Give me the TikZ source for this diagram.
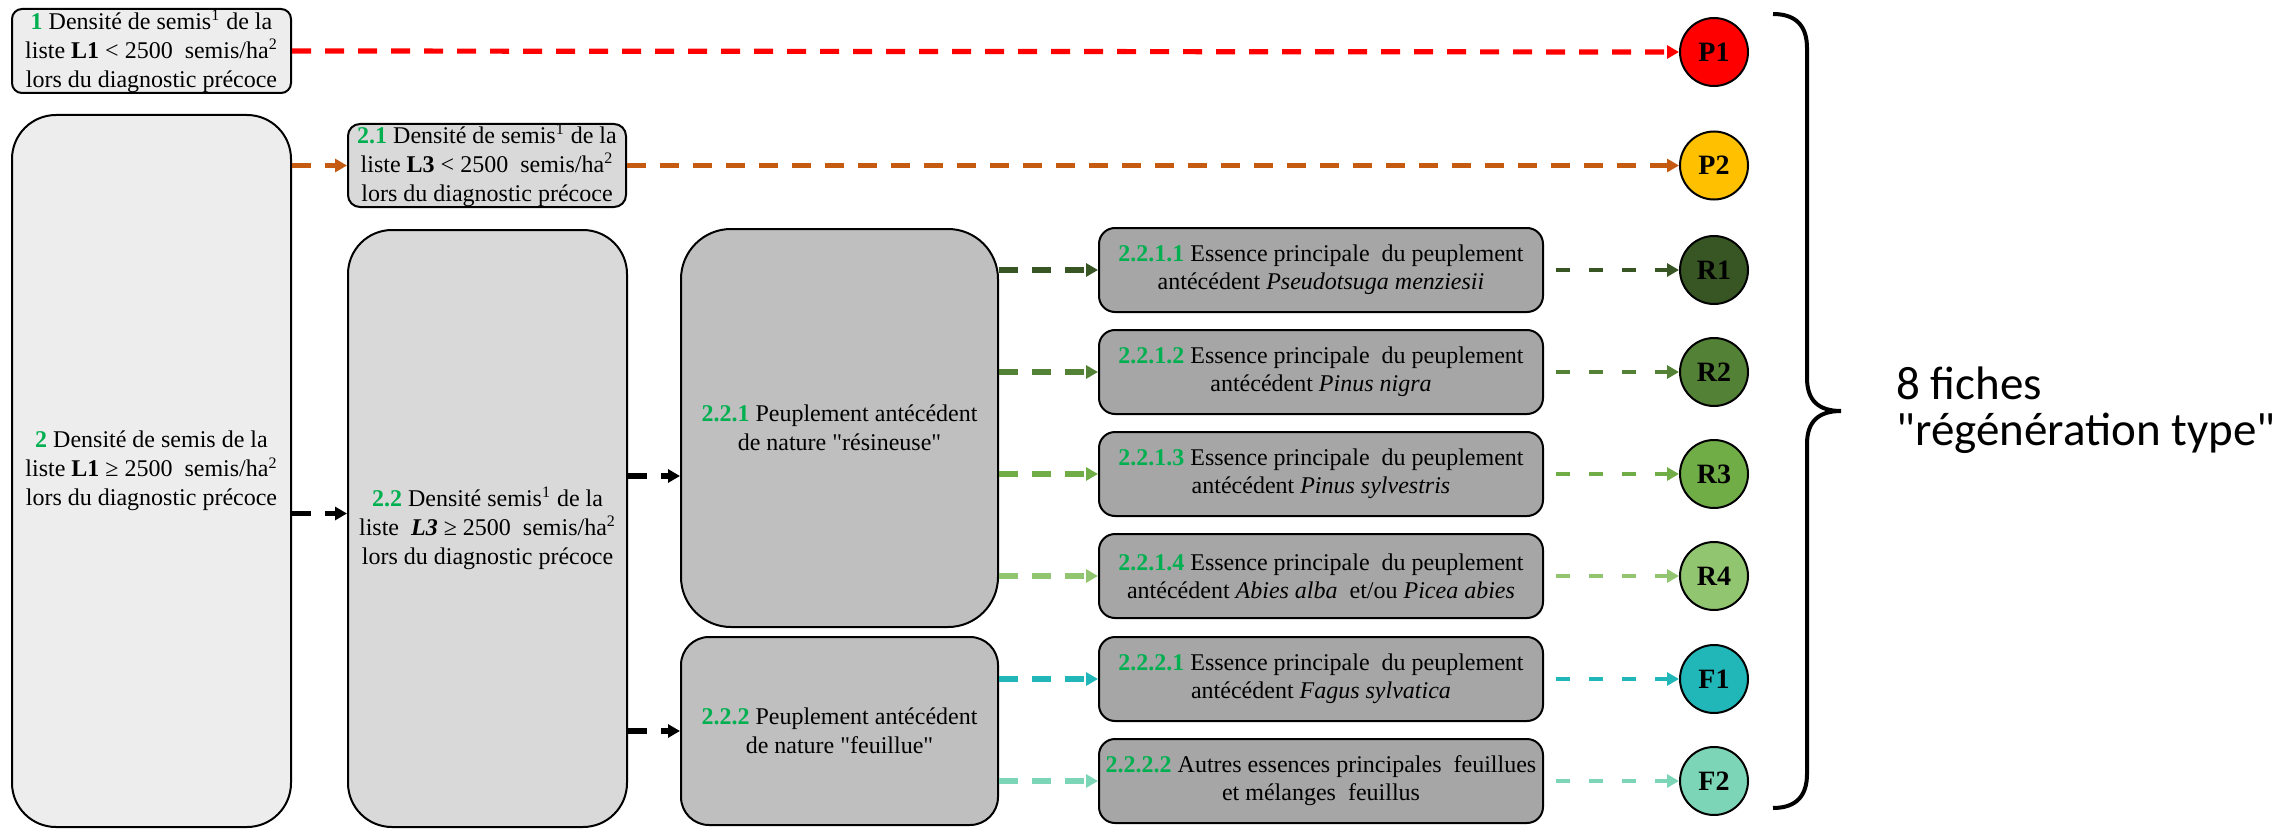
\documentclass[tikz,border=0pt]{standalone}
\usepackage{fontspec}
\newfontfamily\timesfamily{Liberation Serif}
\newfontfamily\calibri{Carlito}
\usetikzlibrary{arrows.meta}

\definecolor{vertnum}{HTML}{00B050}
\definecolor{gris1}{HTML}{EDEDED}
\definecolor{gris2}{HTML}{D9D9D9}
\definecolor{gris3}{HTML}{BFBFBF}
\definecolor{gris4}{HTML}{A6A6A6}
\definecolor{cP1}{HTML}{FF0000}
\definecolor{cP2}{HTML}{FFC000}
\definecolor{cO}{HTML}{C55A11}
\definecolor{cR1}{HTML}{375623}
\definecolor{cR2}{HTML}{538135}
\definecolor{cR3}{HTML}{70AD47}
\definecolor{cR4}{HTML}{92C56F}
\definecolor{cF1}{HTML}{21B6B8}
\definecolor{cF2}{HTML}{7DD5B8}

\newcommand{\numero}[1]{\textcolor{vertnum}{\textbf{#1}}}

\begin{document}
\begin{tikzpicture}[x=1pt,y=-1pt,
    boite/.style={draw, line width=1pt, align=center, inner sep=0pt,
        font=\timesfamily\fontsize{12}{14.5}\selectfont},
    fiche/.style={circle, draw, line width=1pt, minimum size=34pt, inner sep=0pt,
        font=\timesfamily\fontsize{14}{14}\selectfont\bfseries},
    fleche/.style={line width=2.6pt, dash pattern=on 9.5pt off 7pt,
        -{Triangle[length=6pt,width=6.5pt]}},
    flechefiche/.style={line width=1.9pt, dash pattern=on 7pt off 9.5pt,
        -{Triangle[length=6pt,width=6.5pt]}, shorten <=6pt}]
    \useasboundingbox (0,0) rectangle (1143.5,414.5);

    % Colonne 1
    \node[boite, fill=gris1, rounded corners=5pt, minimum width=139.5pt, minimum height=42pt]
        (b1) at (75.75,25.5)
        {\numero{1} Densité de semis\textsuperscript{1} de la\\liste \textbf{L1} < 2500~ semis/ha\textsuperscript{2}\\lors du diagnostic précoce};
    \node[boite, fill=gris1, rounded corners=22pt, minimum width=139.5pt, minimum height=356pt]
        (b2) at (75.75,235.5)
        {\numero{2} Densité de semis de la\\liste \textbf{L1} ≥ 2500~ semis/ha\textsuperscript{2}\\lors du diagnostic précoce};

    % Colonne 2
    \node[boite, fill=gris2, rounded corners=6pt, minimum width=139pt, minimum height=41.5pt]
        (b21) at (243.5,82.75)
        {\numero{2.1} Densité de semis\textsuperscript{1} de la\\liste \textbf{L3} < 2500~ semis/ha\textsuperscript{2}\\lors du diagnostic précoce};
    \node[boite, fill=gris2, rounded corners=22pt, minimum width=139.5pt, minimum height=298.5pt]
        (b22) at (243.75,264.25)
        {\numero{2.2} Densité semis\textsuperscript{1} de la\\liste~ \textbf{\textit{L3}} ≥ 2500~ semis/ha\textsuperscript{2}\\lors du diagnostic précoce};

    % Colonne 3
    \node[boite, fill=gris3, rounded corners=25pt, minimum width=158.5pt, minimum height=199pt]
        (b221) at (419.75,214)
        {\numero{2.2.1} Peuplement antécédent\\de nature "résineuse"};
    \node[boite, fill=gris3, rounded corners=14pt, minimum width=158.5pt, minimum height=94pt]
        (b222) at (419.75,365.5)
        {\numero{2.2.2} Peuplement antécédent\\de nature "feuillue"};

    % Colonne 4
    \tikzset{petite/.style={boite, fill=gris4, rounded corners=8pt, minimum width=222pt,
        minimum height=42pt, font=\timesfamily\fontsize{12}{14}\selectfont}}
    \node[petite] (s1) at (660.5,135)
        {\numero{2.2.1.1} Essence principale~ du peuplement\\antécédent \textit{Pseudotsuga menziesii}};
    \node[petite] (s2) at (660.5,186)
        {\numero{2.2.1.2} Essence principale~ du peuplement\\antécédent \textit{Pinus nigra}};
    \node[petite] (s3) at (660.5,237)
        {\numero{2.2.1.3} Essence principale~ du peuplement\\antécédent \textit{Pinus sylvestris}};
    \node[petite] (s4) at (660.5,288)
        {\numero{2.2.1.4} Essence principale~ du peuplement\\antécédent \textit{Abies alba}~ et/ou \textit{Picea abies}};
    \node[petite] (s5) at (660.5,339.5)
        {\numero{2.2.2.1} Essence principale~ du peuplement\\antécédent \textit{Fagus sylvatica}};
    \node[petite] (s6) at (660.5,390.5)
        {\numero{2.2.2.2} Autres essences principales~ feuillues\\et mélanges~ feuillus};

    % Fiches
    \node[fiche, fill=cP1] (P1) at (857,26) {P1};
    \node[fiche, fill=cP2] (P2) at (857,82.75) {P2};
    \foreach \nom/\y in {R1/135, R2/186, R3/237, R4/288, F1/339.5, F2/390.5}
        \node[fiche, fill=c\nom] (\nom) at (857,\y) {\nom};

    % Flèches
    \draw[fleche, cP1] (b1.east) -- (P1.west);
    \draw[fleche, cO] (b21.west -| b2.east) -- (b21.west);
    \draw[fleche, cO] (b21.east) -- (P2.west);
    \draw[fleche] ([yshift=7.5pt]b22.west -| b2.east) -- ([yshift=7.5pt]b22.west);
    \draw[fleche] ([yshift=-24pt]b221.west -| b22.east) -- ([yshift=-24pt]b221.west);
    \draw[fleche] (b222.west -| b22.east) -- (b222.west);
    \foreach \s/\nom in {s1/R1, s2/R2, s3/R3, s4/R4}
        \draw[fleche, c\nom] (\s.west -| b221.east) -- (\s.west);
    \foreach \s/\nom in {s5/F1, s6/F2}
        \draw[fleche, c\nom] (\s.west -| b222.east) -- (\s.west);
    \foreach \s/\nom in {s1/R1, s2/R2, s3/R3, s4/R4, s5/F1, s6/F2}
        \draw[flechefiche, c\nom] (\s.east) -- (\nom.west);

    % Accolade
    \draw[line width=2pt] (886.5,7) .. controls (898,7) and (903.5,13) .. (903.5,24)
        -- (903.5,189) .. controls (903.5,200) and (909,205.5) .. (920.5,205.5)
        .. controls (909,205.5) and (903.5,211) .. (903.5,222)
        -- (903.5,387) .. controls (903.5,398) and (898,404) .. (886.5,404);
    \node[font=\calibri\fontsize{23.5}{23}\selectfont, align=left, anchor=base west, inner sep=0pt]
        (titre) at (948,222.5) {8 fiches\\"régénération type"};
\end{tikzpicture}
\end{document}
